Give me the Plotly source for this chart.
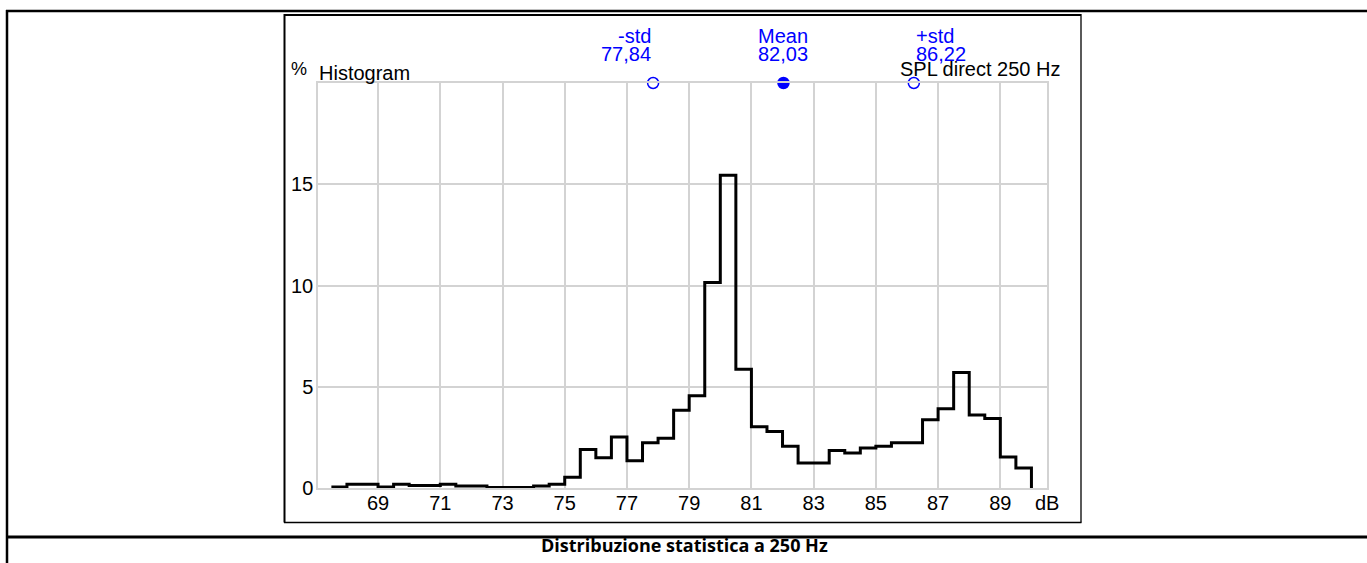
import plotly.graph_objects as go

# Level distribution (percent of time) in 0.5 dB classes starting at 67.5 dB
bin_start = 67.5
bin_width = 0.5
percent = [
    0.05, 0.18, 0.18, 0.05, 0.18, 0.12, 0.12, 0.18, 0.10, 0.10,
    0.03, 0.03, 0.03, 0.10, 0.18, 0.53, 1.90, 1.50, 2.52, 1.35,
    2.23, 2.46, 3.84, 4.55, 10.15, 15.45, 5.86, 3.02, 2.79, 2.06,
    1.24, 1.24, 1.85, 1.73, 1.98, 2.06, 2.24, 2.24, 3.37, 3.91,
    5.70, 3.60, 3.43, 1.53, 0.99,
]

# Statistics markers
stat_names = ["-std", "Mean", "+std"]
stat_values = [77.84, 82.03, 86.22]

x_ticks = [69, 71, 73, 75, 77, 79, 81, 83, 85, 87, 89]
y_ticks = [0, 5, 10, 15, 20]

W, H = 1367, 563
PL, PR, PT, PB = 318, 1047, 83, 488  # plot area in pixels


def px(xp):
    return (xp - PL) / (PR - PL)


def py(yp):
    return (PB - yp) / (PB - PT)


edges = [bin_start + i * bin_width for i in range(len(percent) + 1)]
step_x = edges
step_y = percent + [0]

fig = go.Figure()

fig.add_trace(go.Scatter(
    x=step_x, y=step_y, mode="lines", line_shape="hv",
    line=dict(color="black", width=3), hoverinfo="skip", showlegend=False,
))

fig.add_trace(go.Scatter(
    x=stat_values, y=[20] * len(stat_values), mode="markers",
    marker=dict(symbol=["circle-open", "circle", "circle-open"], size=11,
                color="#0000ff", line=dict(color="#0000ff", width=1.5)),
    cliponaxis=False, hoverinfo="skip", showlegend=False,
))

font = "Liberation Sans, Arial, sans-serif"
blue = "#0000ff"
annotations = []
anchors = ["right", "center", "left"]
for name, val, anc in zip(stat_names, stat_values, anchors):
    annotations.append(dict(x=val, y=py(36), xref="x", yref="paper", text=name,
                            showarrow=False, xanchor=anc, yanchor="middle",
                            font=dict(family=font, size=20, color=blue)))
    annotations.append(dict(x=val, y=py(54), xref="x", yref="paper",
                            text=f"{val:.2f}".replace(".", ","),
                            showarrow=False, xanchor=anc, yanchor="middle",
                            font=dict(family=font, size=20, color=blue)))

annotations += [
    dict(x=px(299), y=py(69), xref="paper", yref="paper", text="%", showarrow=False,
         xanchor="center", yanchor="middle", font=dict(family=font, size=18, color="black")),
    dict(x=px(317), y=py(73), xref="paper", yref="paper", text="Histogram", showarrow=False,
         xanchor="left", yanchor="middle", font=dict(family=font, size=20, color="black")),
    dict(x=px(1062), y=py(69), xref="paper", yref="paper", text="SPL direct 250 Hz",
         showarrow=False, xanchor="right", yanchor="middle",
         font=dict(family=font, size=20, color="black")),
    dict(x=px(1047), y=py(503), xref="paper", yref="paper", text="dB", showarrow=False,
         xanchor="center", yanchor="middle", font=dict(family=font, size=20, color="black")),
    dict(x=px(684), y=py(545), xref="paper", yref="paper",
         text="<b>Distribuzione statistica a 250 Hz</b>", showarrow=False,
         xanchor="center", yanchor="middle",
         font=dict(family="Open Sans, sans-serif", size=18, color="black")),
]

shapes = [
    # outer table frame
    dict(type="line", xref="paper", yref="paper", x0=px(6), x1=px(1367), y0=py(11), y1=py(11),
         line=dict(color="black", width=2.5)),
    dict(type="line", xref="paper", yref="paper", x0=px(7), x1=px(7), y0=py(10), y1=py(563),
         line=dict(color="black", width=2.5)),
    dict(type="line", xref="paper", yref="paper", x0=px(7), x1=px(1367), y0=py(537), y1=py(537),
         line=dict(color="black", width=3)),
    # chart box
    dict(type="line", xref="paper", yref="paper", x0=px(284), x1=px(1081), y0=py(15), y1=py(15),
         line=dict(color="black", width=2)),
    dict(type="line", xref="paper", yref="paper", x0=px(284.5), x1=px(284.5), y0=py(14), y1=py(522.5),
         line=dict(color="black", width=2)),
    dict(type="line", xref="paper", yref="paper", x0=px(1081), x1=px(1081), y0=py(14), y1=py(522.5),
         line=dict(color="black", width=1.3)),
    dict(type="line", xref="paper", yref="paper", x0=px(284), x1=px(1081.5), y0=py(522.5), y1=py(522.5),
         line=dict(color="black", width=1.3)),
]

grid = "#d3d3d3"
fig.update_layout(
    width=W, height=H,
    margin=dict(l=PL, r=W - PR, t=PT, b=H - PB, pad=0),
    paper_bgcolor="white", plot_bgcolor="white",
    annotations=annotations, shapes=shapes,
    xaxis=dict(range=[67.07, 90.5], tickvals=x_ticks, ticktext=[str(v) for v in x_ticks],
               showgrid=True, gridcolor=grid, gridwidth=1.5, zeroline=False,
               showline=True, mirror=True, linecolor=grid, linewidth=1.5,
               ticks="", ticklabelstandoff=-4,
               tickfont=dict(family=font, size=20, color="black")),
    yaxis=dict(range=[0, 20], tickvals=y_ticks, ticktext=["0", "5", "10", "15", ""],
               showgrid=True, gridcolor=grid, gridwidth=1.5, zeroline=False,
               showline=True, mirror=True, linecolor=grid, linewidth=1.5,
               ticks="", ticklabelstandoff=-1,
               tickfont=dict(family=font, size=20, color="black")),
)

fig.write_html("out.html")
